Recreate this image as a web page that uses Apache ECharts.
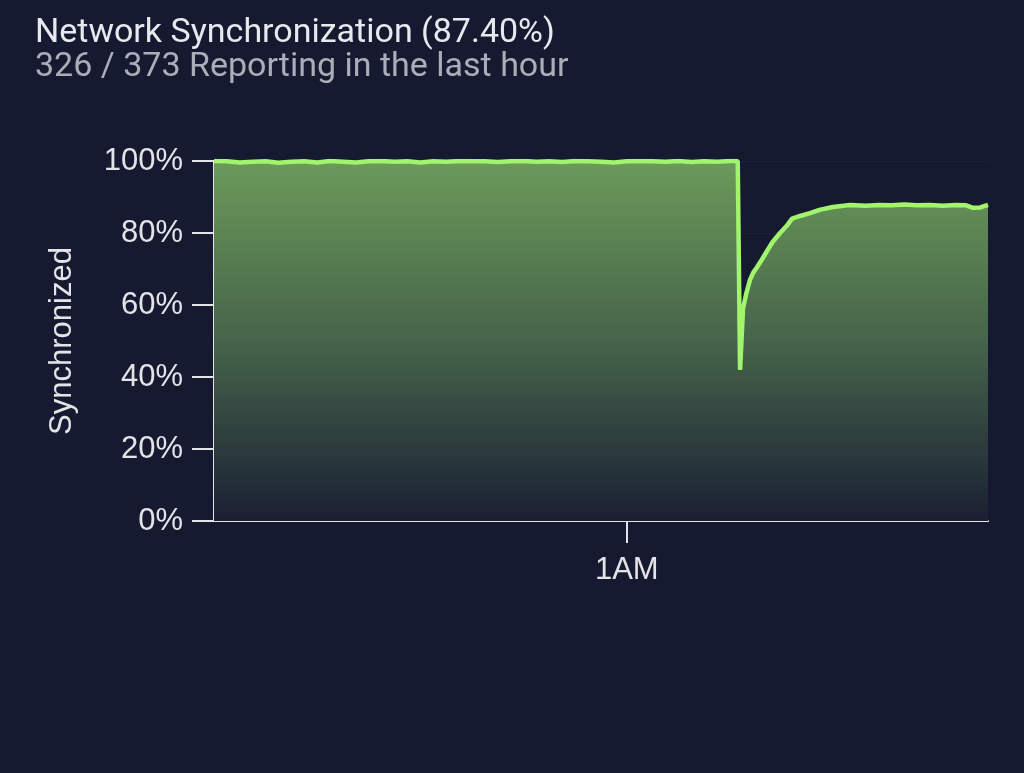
<!DOCTYPE html>
<html>
<head>
<meta charset="utf-8">
<script src="https://cdn.jsdelivr.net/npm/echarts@6/dist/echarts.min.js"></script>
<style>
html,body{margin:0;padding:0;background:#151a30;}
#chart{width:1024px;height:773px;}
</style>
</head>
<body>
<div id="chart"></div>
<script>
// Minutes relative to 1AM
var times = [
  -32,-31,-30,-29,-28,-27,-26,-25,-24,-23,-22,-21,-20,-19,-18,-17,-16,-15,-14,-13,
  -12,-11,-10,-9,-8,-7,-6,-5,-4,-3,-2,-1,0,1,2,3,4,5,6,7,8,8.6,
  8.78,9.01,9.25,9.55,9.8,10.09,10.45,10.87,11.3,11.88,12.4,12.81,13.5,14.2,15.0,15.98,
  17.3,18.5,19.5,20.5,21.5,22.5,23.5,24.5,25.5,26.3,26.84,27.4,28
];
var synced = [
  100,99.9,99.6,99.8,99.9,99.5,99.8,99.9,99.6,100,99.8,99.6,99.9,100,99.8,99.9,99.6,99.9,99.8,100,
  99.9,99.9,99.7,99.9,100,99.8,99.9,99.7,100,99.9,99.8,99.6,99.9,100,99.9,99.8,100,99.7,99.9,99.8,100,100,
  42,59,63,67,69,70.5,72.5,75,77.5,80,82,84,84.8,85.5,86.5,87.2,
  87.8,87.6,87.8,87.7,87.9,87.7,87.8,87.6,87.8,87.7,87.0,87.1,87.8
];
var xTickValues = [0];
var xTickLabels = ['1AM'];
var yTicks = [0, 20, 40, 60, 80, 100];
var titleText = 'Network Synchronization (87.40%)';
var subText = '326 / 373 Reporting in the last hour';
var yName = 'Synchronized';

var data = times.map(function (t, i) { return [t, synced[i]]; });
var axisFont = '"Liberation Sans", Arial, sans-serif';

var chart = echarts.init(document.getElementById('chart'));
chart.setOption({
  backgroundColor: '#151a30',
  animation: false,
  textStyle: { fontFamily: 'Roboto' },
  title: {
    text: titleText,
    subtext: subText,
    left: 30,
    top: 12,
    itemGap: 0,
    textStyle: { color: '#e8e9ee', fontSize: 34, fontWeight: 'normal', fontFamily: 'Roboto', lineHeight: 33 },
    subtextStyle: { color: '#abadb8', fontSize: 34, fontFamily: 'Roboto', lineHeight: 33 }
  },
  grid: { left: 214, right: 36, top: 161, bottom: 252, containLabel: false },
  xAxis: {
    type: 'value',
    min: -32,
    max: 28,
    axisLine: { show: true, onZero: false, lineStyle: { color: '#e4e4e8', width: 2 } },
    axisTick: { show: true, customValues: xTickValues, length: 22, lineStyle: { color: '#e4e4e8', width: 2 } },
    axisLabel: {
      show: true,
      customValues: xTickValues,
      margin: 34,
      color: '#e4e4e8',
      fontSize: 31,
      fontFamily: axisFont,
      formatter: function (v) {
        var i = xTickValues.indexOf(v);
        return i >= 0 ? xTickLabels[i] : '';
      }
    },
    splitLine: { show: true, lineStyle: { color: 'rgba(255,255,255,0.035)', width: 1 } }
  },
  yAxis: {
    type: 'value',
    min: 0,
    max: 100,
    interval: 20,
    name: yName,
    nameLocation: 'middle',
    nameGap: 136,
    nameTextStyle: { color: '#e4e4e8', fontSize: 31, fontFamily: axisFont },
    axisLine: { show: true, onZero: false, lineStyle: { color: '#e4e4e8', width: 2 } },
    axisTick: { show: true, length: 22, lineStyle: { color: '#e4e4e8', width: 2 } },
    axisLabel: {
      margin: 31,
      color: '#e4e4e8',
      fontSize: 31,
      fontFamily: axisFont,
      formatter: function (v) { return yTicks.indexOf(v) >= 0 ? v + '%' : ''; }
    },
    splitLine: { show: true, lineStyle: { color: 'rgba(255,255,255,0.04)', width: 1 } }
  },
  series: [{
    type: 'line',
    data: data,
    showSymbol: false,
    lineStyle: { color: '#a2f46c', width: 4.5 },
    areaStyle: {
      opacity: 1,
      color: new echarts.graphic.LinearGradient(0, 0, 0, 1, [
        { offset: 0, color: '#6b9a5a' },
        { offset: 0.5, color: '#46644a' },
        { offset: 1, color: '#1a2034' }
      ])
    },
    z: 3
  }]
});
</script>
</body>
</html>
